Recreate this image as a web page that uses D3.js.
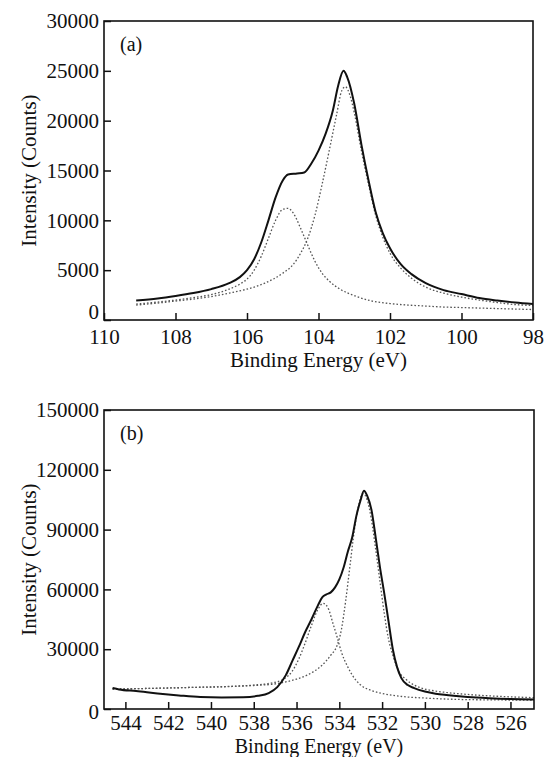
<!DOCTYPE html>
<html>
<head>
<meta charset="utf-8">
<script src="https://cdn.jsdelivr.net/npm/d3@7"></script>
<style>
  html, body { margin: 0; padding: 0; background: #fff; }
  svg text { font-family: "Liberation Serif", "Times New Roman", serif; fill: #111; }
</style>
</head>
<body>
<svg id="chart" width="547" height="757"></svg>
<script>
// ---------- Panel (a) data: Si 2p region ----------
const aEnergy = [109.1,108.5,108,107.5,107,106.5,106.2,106,105.8,105.6,105.4,105.2,105.0,104.85,104.6,104.4,104.2,104.0,103.8,103.6,103.45,103.3,103.2,103.0,102.8,102.6,102.4,102.2,102.0,101.7,101.4,101.0,100.5,100,99.5,99,98.5,98];
const aEnvelope = [1950,2150,2400,2700,3100,3700,4300,5000,6100,7800,10000,12300,14000,14600,14700,14800,15700,17000,18700,21000,23500,25000,24400,21700,17600,14000,10800,8700,7200,5600,4600,3700,3000,2600,2200,1950,1750,1600];

const aSmallEnergy = [109.1,108.5,108,107.5,107,106.5,106.2,106,105.8,105.6,105.4,105.2,105.0,104.85,104.7,104.5,104.3,104.1,103.9,103.7,103.4,103.0,102.5,102,101.5,101,100.5,100,99.5,99,98.5,98];
const aSmallPeak = [1600,1800,2000,2250,2550,3100,3600,4100,5000,6400,8200,10000,11100,11200,10700,9200,7500,5900,4700,3900,3100,2450,1900,1650,1500,1400,1300,1250,1200,1150,1100,1050];

const aBigEnergy = [109.1,108.5,108,107.5,107,106.5,106,105.5,105,104.7,104.5,104.3,104.1,103.9,103.7,103.5,103.35,103.25,103.1,103.0,102.8,102.6,102.4,102.2,102.0,101.7,101.4,101.0,100.5,100,99.5,99,98.5,98];
const aBigPeak = [1500,1700,1900,2100,2350,2700,3100,3700,4700,5600,6700,8200,10500,13600,17000,20500,23000,23400,22300,20800,17000,13600,10500,8300,6700,5200,4200,3300,2700,2300,2000,1750,1550,1450];

const aXTicks = [110,108,106,104,102,100,98];
const aYTicks = [0,5000,10000,15000,20000,25000,30000];

// ---------- Panel (b) data: O 1s region ----------
const bEnergy = [544.6,544.3,543.5,542.5,541.5,540.5,539.5,538.5,537.8,537.3,536.9,536.5,536.2,535.9,535.6,535.3,535.0,534.8,534.6,534.4,534.2,534.0,533.8,533.6,533.4,533.2,533.0,532.85,532.7,532.5,532.3,532.1,531.9,531.7,531.5,531.3,531.1,530.8,530.5,530,529.5,529,528,527,526,524.9];
const bEnvelope = [10500,9800,9000,7800,6800,6000,5800,5900,6600,8000,11000,17000,24000,31000,38500,45000,52000,56000,57500,58500,61000,65000,71000,79000,86000,97000,105000,109500,107000,100000,86000,71000,58000,44000,30000,21000,15500,12000,10500,8800,7700,7000,6000,5400,5000,4800];

const bSmallEnergy = [544.6,543,541,539,538,537.2,536.6,536.2,535.9,535.6,535.3,535.0,534.75,534.5,534.3,534.1,533.9,533.6,533.3,533.0,532.5,532,531,530,529,528,527,526,524.9];
const bSmallPeak = [10000,10300,10800,11400,12000,13000,15000,19000,25000,33000,42000,50000,53000,50000,43000,36000,28500,21000,15500,12000,9300,7800,6200,5500,5000,4700,4600,4500,4400];

const bBigEnergy = [544.6,543,541,539,538,537,536.5,536,535.5,535.2,534.8,534.4,534.1,533.9,533.7,533.5,533.3,533.1,532.9,532.7,532.5,532.3,532.1,531.9,531.7,531.5,531.2,530.9,530.5,530,529.5,529,528,527,526,524.9];
const bBigPeak = [10000,10300,10800,11300,11800,12600,13600,15000,17000,18800,22000,27000,32000,40000,54500,72000,89500,102000,108000,105000,95000,80000,64000,48000,35000,27000,18500,15000,12000,10000,9000,8300,7300,6600,6100,5700];

const bXTicks = [544,542,540,538,536,534,532,530,528,526];
const bYTicks = [0,30000,60000,90000,120000,150000];

// ---------- Drawing ----------
const svg = d3.select("#chart");
const FONT = 21;

function panel(cfg) {
  const g = svg.append("g");
  const x = d3.scaleLinear().domain(cfg.xDomain).range([cfg.left, cfg.right]);
  const y = d3.scaleLinear().domain(cfg.yDomain).range([cfg.bottom, cfg.top]);

  const line = d3.line().x(d => x(d[0])).y(d => y(d[1])).curve(d3.curveMonotoneX);
  const zip = (xs, ys) => xs.map((v, i) => [v, ys[i]]);

  // dotted components
  cfg.dotted.forEach(s => {
    g.append("path")
      .datum(zip(s[0], s[1]))
      .attr("d", line)
      .attr("fill", "none")
      .attr("stroke", "#555")
      .attr("stroke-width", 1.3)
      .attr("stroke-dasharray", "1.6,2");
  });
  // envelope
  g.append("path")
    .datum(zip(cfg.solid[0], cfg.solid[1]))
    .attr("d", line)
    .attr("fill", "none")
    .attr("stroke", "#111")
    .attr("stroke-width", 2);

  // axes
  const xAxis = d3.axisBottom(x).tickValues(cfg.xTicks).tickSize(-7).tickSizeOuter(0).tickPadding(cfg.xPad)
    .tickFormat(d3.format("d"));
  const yAxis = d3.axisLeft(y).tickValues(cfg.yTicks).tickSize(-7).tickSizeOuter(0).tickPadding(5)
    .tickFormat(d3.format("d"));

  const gx = g.append("g").attr("transform", `translate(0,${cfg.bottom})`).call(xAxis);
  const gy = g.append("g").attr("transform", `translate(${cfg.left},0)`).call(yAxis);
  [gx, gy].forEach(a => {
    a.select(".domain").remove();
    a.selectAll(".tick line").attr("stroke", "#111").attr("stroke-width", 1.5);
    a.selectAll(".tick text")
      .attr("font-family", '"Liberation Serif", serif')
      .attr("font-size", FONT)
      .attr("fill", "#111");
  });
  // nudge the zero label so it clears the first x label at the corner
  gy.selectAll(".tick text").filter(d => d === 0).attr("dy", cfg.zeroDy);

  // frame
  g.append("rect")
    .attr("x", cfg.left).attr("y", cfg.top)
    .attr("width", cfg.right - cfg.left).attr("height", cfg.bottom - cfg.top)
    .attr("fill", "none").attr("stroke", "#111").attr("stroke-width", 1.6);

  // panel letter
  g.append("text")
    .attr("x", cfg.left + 16).attr("y", cfg.top + 30)
    .attr("font-size", 20)
    .text(cfg.letter);

  // axis titles
  g.append("text")
    .attr("x", (cfg.left + cfg.right) / 2)
    .attr("y", cfg.bottom + cfg.titleOffset)
    .attr("text-anchor", "middle")
    .attr("font-size", cfg.titleSize)
    .text("Binding Energy (eV)");

  g.append("text")
    .attr("transform", `translate(36,${(cfg.top + cfg.bottom) / 2}) rotate(-90)`)
    .attr("text-anchor", "middle")
    .attr("font-size", FONT)
    .text("Intensity (Counts)");
}

panel({
  left: 104, right: 533, top: 21, bottom: 320,
  xDomain: [110, 98], yDomain: [0, 30000],
  xTicks: aXTicks, yTicks: aYTicks,
  solid: [aEnergy, aEnvelope],
  dotted: [[aSmallEnergy, aSmallPeak], [aBigEnergy, aBigPeak]],
  letter: "(a)", titleOffset: 47, titleSize: 21, xPad: 9, zeroDy: "-0.08em"
});

panel({
  left: 104, right: 534, top: 410, bottom: 709,
  xDomain: [545, 524.9], yDomain: [0, 150000],
  xTicks: bXTicks, yTicks: bYTicks,
  solid: [bEnergy, bEnvelope],
  dotted: [[bSmallEnergy, bSmallPeak], [bBigEnergy, bBigPeak]],
  letter: "(b)", titleOffset: 43.5, titleSize: 20, xPad: 6, zeroDy: "0.45em"
});
</script>
</body>
</html>
